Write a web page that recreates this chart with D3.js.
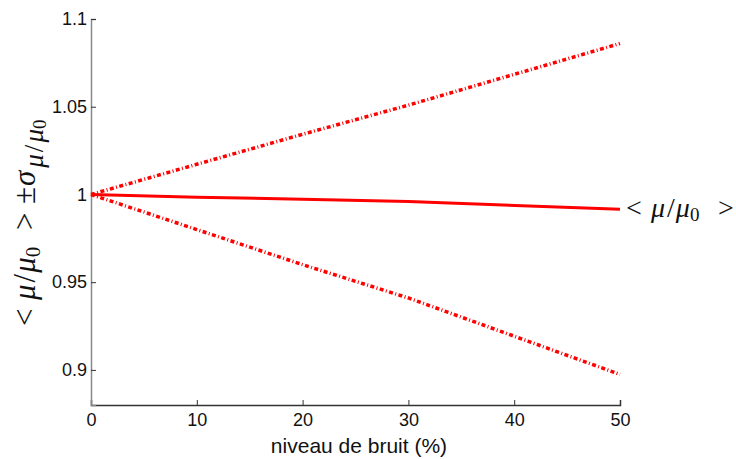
<!DOCTYPE html>
<html><head><meta charset="utf-8">
<script src="https://cdn.jsdelivr.net/npm/d3@7"></script>
<style>body{margin:0;background:#fff}</style>
</head><body>
<svg id="c" width="736" height="459"></svg>
<script>
const noise = [0, 10, 20, 30, 50];
const meanRatio = [1.0, 0.9984, 0.9973, 0.996, 0.9915];
const upperBand = [1.0, 1.0172, 1.0343, 1.0509, 1.086];
const lowerBand = [1.0, 0.980, 0.960, 0.941, 0.8974];
const xTicks = [0, 10, 20, 30, 40, 50];
const yTicks = [0.9, 0.95, 1, 1.05, 1.1];
const yTickLabels = ["0.9", "0.95", "1", "1.05", "1.1"];

const svg = d3.select("#c");
const x = d3.scaleLinear().domain([0, 50]).range([91, 620]);
const y = d3.scaleLinear().domain([0.88, 1.1]).range([405, 19]);

const sans = "Liberation Sans, Arial, sans-serif";
const ser = "Liberation Serif, Times New Roman, serif";

// axes
const xa = svg.append("g").attr("transform", "translate(0,405)")
  .call(d3.axisBottom(x).tickValues(xTicks).tickSize(-5).tickPadding(8).tickFormat(d3.format("d")));
const ya = svg.append("g").attr("transform", "translate(91,0)")
  .call(d3.axisLeft(y).tickValues(yTicks).tickSize(-5).tickPadding(4).tickFormat((d,i)=>yTickLabels[i]));
[xa, ya].forEach(a => {
  a.selectAll("text").attr("font-family", sans).attr("font-size", 18).attr("fill", "#111");
  a.selectAll("line").attr("stroke", "#333");
});
xa.select(".domain").attr("stroke", "#333").attr("stroke-width", 1.5);
ya.select(".domain").attr("stroke", "#888").attr("stroke-width", 1.5);

const line = (vals) => d3.line().x((d, i) => x(noise[i])).y(d => y(d))(vals);

svg.append("path").attr("d", line(upperBand)).attr("fill", "none")
  .attr("stroke", "#ff0000").attr("stroke-width", 3.5).attr("stroke-dasharray", "4,2.4,1,2.4");
svg.append("path").attr("d", line(lowerBand)).attr("fill", "none")
  .attr("stroke", "#ff0000").attr("stroke-width", 3.5).attr("stroke-dasharray", "4,2.4,1,2.4");
svg.append("path").attr("d", line(meanRatio)).attr("fill", "none")
  .attr("stroke", "#ff0000").attr("stroke-width", 3);

// end label
const lab = svg.append("text").attr("transform", "translate(626,217)")
  .attr("font-family", ser).attr("font-size", 28).attr("fill", "#111");
lab.append("tspan").attr("x", 0).text("<");
lab.append("tspan").attr("x", 25).attr("font-style", "italic").text("μ");
lab.append("tspan").attr("dx", 2).text("/");
lab.append("tspan").attr("dx", 1).attr("font-style", "italic").text("μ");
lab.append("tspan").attr("font-size", 19).attr("dy", 4).text("0");
lab.append("tspan").attr("x", 92).attr("dy", -4).text(">");

// x label
svg.append("text").attr("x", 359).attr("y", 453).attr("text-anchor", "middle")
  .attr("font-family", sans).attr("font-size", 21).attr("fill", "#111")
  .text("niveau de bruit (%)");

// y label
const yl = svg.append("text").attr("transform", "translate(35,326) rotate(-90)")
  .attr("font-family", ser).attr("font-size", 31).attr("fill", "#111");
yl.append("tspan").attr("x", 0).text("<");
yl.append("tspan").attr("x", 26).attr("font-style", "italic").text("μ");
yl.append("tspan").attr("dx", 2).text("/");
yl.append("tspan").attr("dx", 1).attr("font-style", "italic").text("μ");
yl.append("tspan").attr("font-size", 21).attr("dy", 5).text("0");
yl.append("tspan").attr("x", 96).attr("dy", -5).text(">");
yl.append("tspan").attr("x", 122).text("±");
yl.append("tspan").attr("dx", 1).attr("font-style", "italic").text("σ");
yl.append("tspan").attr("dx", 3).attr("font-style", "italic").attr("font-size", 27).attr("dy", 8).text("μ");
yl.append("tspan").attr("font-size", 27).attr("dx", 2).text("/");
yl.append("tspan").attr("font-style", "italic").attr("dx", 2).attr("font-size", 27).text("μ");
yl.append("tspan").attr("font-size", 19).attr("dy", 3).text("0");
</script>
</body></html>
